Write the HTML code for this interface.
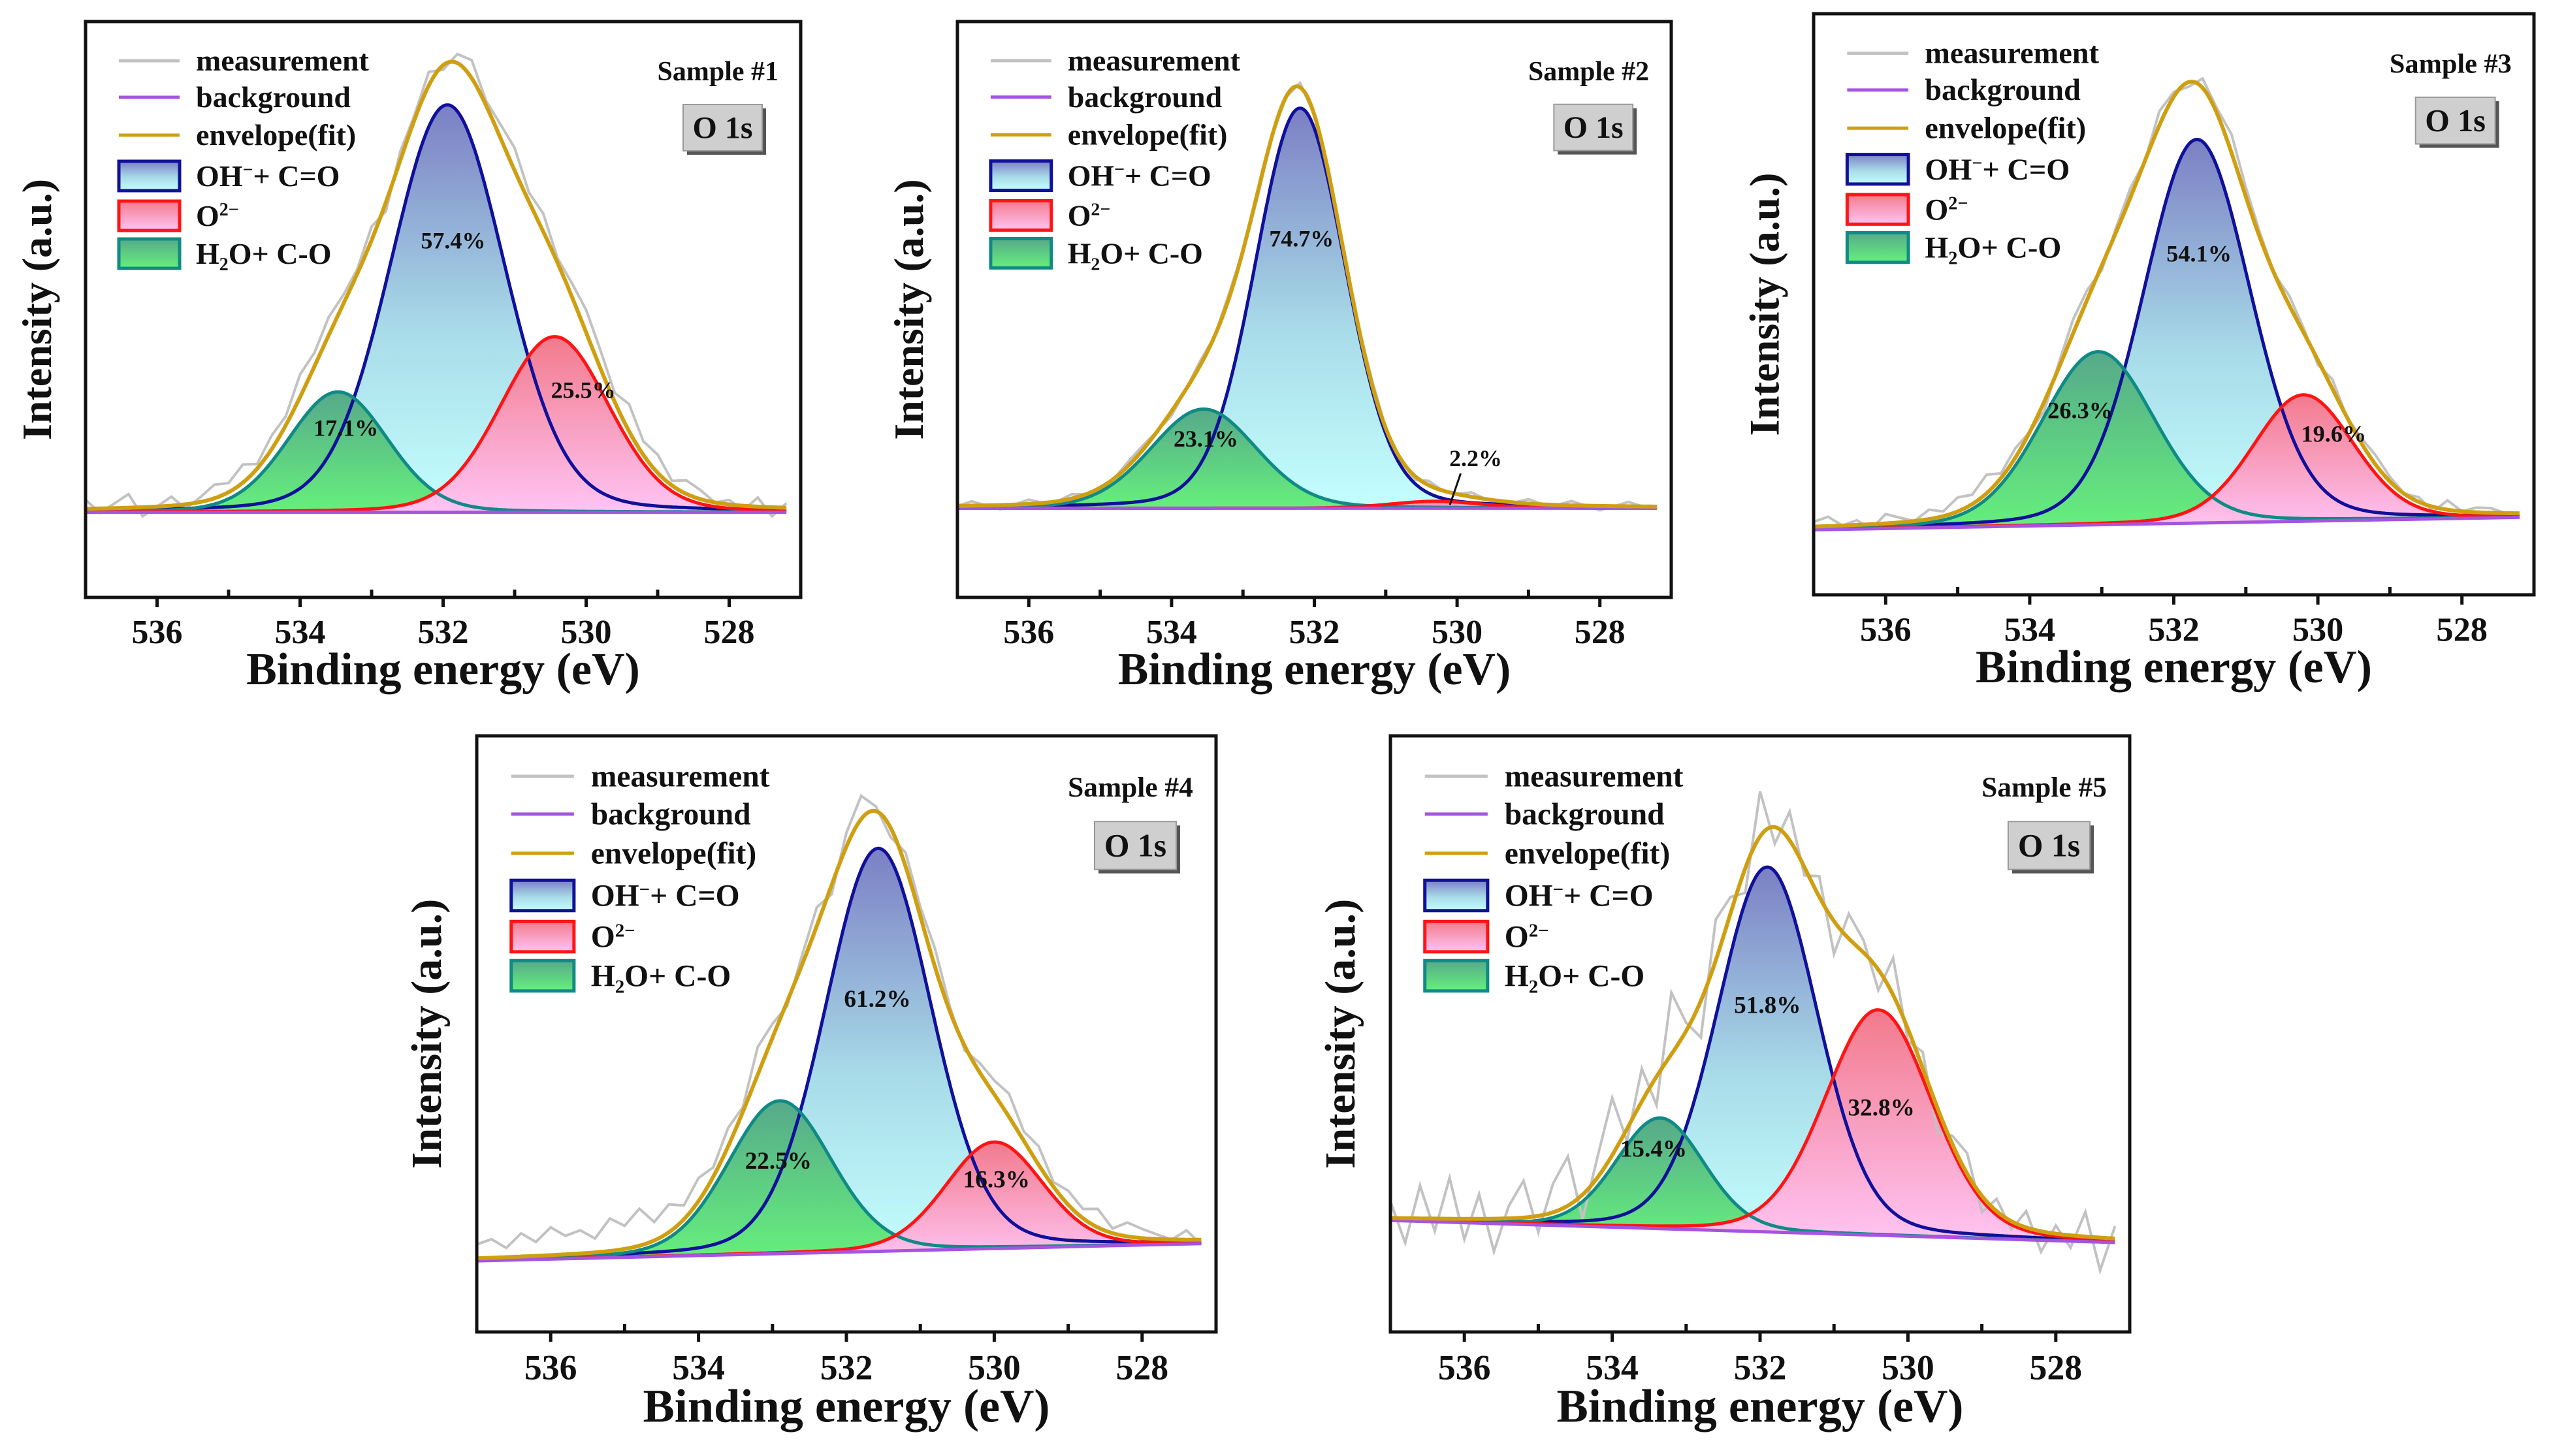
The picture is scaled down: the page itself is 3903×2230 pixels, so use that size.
<!DOCTYPE html>
<html><head><meta charset="utf-8"><style>
html,body{margin:0;padding:0;background:#fff}
svg{display:block}
text{font-family:"Liberation Serif",serif;font-weight:bold;fill:#111}
</style></head><body>
<svg id="fig" xmlns="http://www.w3.org/2000/svg" width="3903" height="2230" viewBox="0 0 3903 2230">
<defs>
<linearGradient id="gBlue" x1="0" y1="0" x2="0" y2="1"><stop offset="0" stop-color="#7b7fc4"/><stop offset="0.55" stop-color="#a8dbe8"/><stop offset="1" stop-color="#c4ffff"/></linearGradient>
<linearGradient id="gRed" x1="0" y1="0" x2="0" y2="1"><stop offset="0" stop-color="#f27a8c"/><stop offset="1" stop-color="#ffc4f4"/></linearGradient>
<linearGradient id="gGreen" x1="0" y1="0" x2="0" y2="1"><stop offset="0" stop-color="#56a98a"/><stop offset="1" stop-color="#66f07c"/></linearGradient>
</defs>
</svg>
<script>
// ---- data (energies in eV, intensities in a.u.; order: OH-+C=O, O2-, H2O+C-O) ----
const tickLabels = [536, 534, 532, 530, 528];
const p1Centers = [531.94, 530.44, 533.47];
const p1Amps = [90, 38.8, 26.6];
const p1Fwhm = [1.9, 1.8, 1.65];
const p1Bg = [0, 0];
const p1Pct = ["57.4%", "25.5%", "17.1%"];
const p1PctX = [531.86, 530.04, 533.36];
const p1PctY = [60, 27, 18.6];
const p1Resid = [2,-1,1,3,-2,0,2,-1,1,3,2,4,1,3,2,5,3,4,2,1,3,-2,2,1,3,-1,2,4,1,3,5,2,4,1,3,5,4,2,6,3,4,1,3,2,0,1,-1,2,-2,1];

const p2Centers = [532.2, 530.3, 533.55];
const p2Amps = [92, 1.6, 22.8];
const p2Fwhm = [1.5, 1.5, 1.75];
const p2Bg = [0, 0];
const p2Pct = ["74.7%", "2.2%", "23.1%"];
const p2PctX = [532.18, 529.74, 533.52];
const p2PctY = [62, 11.5, 16];
const p2Resid = [0,1,0,-1,0,1,0,0,1,0,-1,0,1,1,0,-1,0,1,0,1,0,-1,0,0,1,0,1,-1,0,1,0,0,-1,1,0,0,1,0,-1,0,1,0,0,1,0,-1,0,1,0,0];

const p3Centers = [531.68, 530.2, 533.05];
const p3Amps = [82, 27, 37];
const p3Fwhm = [1.75, 1.65, 1.85];
const p3Bg = [-1, 1.7];
const p3Pct = ["54.1%", "19.6%", "26.3%"];
const p3PctX = [531.65, 529.78, 533.3];
const p3PctY = [58, 19.5, 24.5];
const p3Resid = [1,2,0,1,-1,2,1,0,2,1,3,2,4,1,2,0,-2,1,3,2,-1,1,2,0,3,1,-1,2,1,4,2,1,0,2,1,-1,2,0,1,2,1,0,1,-1,2,0,1,1,0,-1];

const p4Centers = [531.57, 530.0, 532.9];
const p4Amps = [87, 23, 33];
const p4Fwhm = [1.7, 1.55, 1.65];
const p4Bg = [-1.55, 2.25];
const p4Pct = ["61.2%", "16.3%", "22.5%"];
const p4PctX = [531.58, 529.97, 532.92];
const p4PctY = [55, 16, 20];
const p4Resid = [3,4,2,5,3,6,4,5,3,7,5,8,4,6,3,5,2,4,1,6,3,-1,2,4,-2,3,5,1,-2,3,2,4,1,-1,2,3,5,2,4,1,3,2,4,1,3,2,1,0,2,-1];

const p5Centers = [531.9, 530.4, 533.35];
const p5Amps = [89, 55, 27];
const p5Fwhm = [1.6, 1.7, 1.4];
const p5Bg = [1.5, -4];
const p5Pct = ["51.8%", "32.8%", "15.4%"];
const p5PctX = [531.9, 530.36, 533.44];
const p5PctY = [54, 29, 19];
const p5Resid = [4,-6,8,-3,10,-5,6,-8,3,9,-4,7,12,-6,5,14,-3,8,-7,15,2,-9,10,4,-6,11,-4,7,-2,5,-8,6,3,-5,9,-3,4,-6,2,5,-4,3,-2,4,-5,2,-3,6,-8,3];

const NS = "http://www.w3.org/2000/svg";
const svg = document.getElementById('fig');
function mk(tag, attrs, parent){ const e=document.createElementNS(NS,tag); for(const k in attrs) e.setAttribute(k,attrs[k]); (parent||svg).appendChild(e); return e; }

const panels = [
 {n:1, x:131, y:33, w:1095, h:882, vTop:108.4, vBot:-18.8, c:p1Centers, a:p1Amps, f:p1Fwhm, bg:p1Bg, pct:p1Pct, px:p1PctX, py:p1PctY, r:p1Resid},
 {n:2, x:1466, y:33, w:1093, h:882, vTop:111.9, vBot:-20.5, c:p2Centers, a:p2Amps, f:p2Fwhm, bg:p2Bg, pct:p2Pct, px:p2PctX, py:p2PctY, r:p2Resid},
 {n:3, x:2777, y:21, w:1103, h:890, vTop:109.3, vBot:-14.9, c:p3Centers, a:p3Amps, f:p3Fwhm, bg:p3Bg, pct:p3Pct, px:p3PctX, py:p3PctY, r:p3Resid},
 {n:4, x:730, y:1127, w:1132, h:913, vTop:111.8, vBot:-16.9, c:p4Centers, a:p4Amps, f:p4Fwhm, bg:p4Bg, pct:p4Pct, px:p4PctX, py:p4PctY, r:p4Resid},
 {n:5, x:2129, y:1127, w:1132, h:913, vTop:119.7, vBot:-25.7, c:p5Centers, a:p5Amps, f:p5Fwhm, bg:p5Bg, pct:p5Pct, px:p5PctX, py:p5PctY, r:p5Resid}
];
const E0 = 537, E1 = 527, EEND = 527.2;
const strokes = ['#10109a', '#ff1414', '#108a84'];
const fills = ['url(#gBlue)', 'url(#gRed)', 'url(#gGreen)'];
const compNames = ['oh-co-component', 'o2-component', 'h2o-co-component'];

function pv(x, c, a, w){ const d=(x-c)/w; return a*(0.85*Math.exp(-4*Math.LN2*d*d) + 0.15/(1+4*d*d)); }

panels.forEach(P => {
  const g = mk('g', {});
  
  
  const X = e => P.x + (E0 - e) / (E0 - E1) * P.w;
  const Y = v => P.y + (P.vTop - v) / (P.vTop - P.vBot) * P.h;
  const bgAt = e => P.bg[0] + (P.bg[1] - P.bg[0]) * (E0 - e) / (E0 - E1);
  const k = P.w / 1095;
  const N = 400;
  const es = []; for (let i = 0; i <= N; i++) es.push(E0 - (E0 - EEND) * i / N);
  const order = [0, 2, 1];
  order.forEach(j => {
    let d = '';
    es.forEach((e, i) => { d += (i ? 'L' : 'M') + X(e).toFixed(1) + ',' + Y(bgAt(e) + pv(e, P.c[j], P.a[j], P.f[j])).toFixed(1); });
    for (let i = es.length - 1; i >= 0; i--) d += 'L' + X(es[i]).toFixed(1) + ',' + Y(bgAt(es[i])).toFixed(1);
    const p = mk('path', {d: d + 'Z', fill: fills[j], stroke: 'none'}, g);
    
    
  });
  let dm = '';
  P.r.forEach((rv, i) => { const e = E0 - i * 0.2; let s = bgAt(e); for (let j = 0; j < 3; j++) s += pv(e, P.c[j], P.a[j], P.f[j]); dm += (i ? 'L' : 'M') + X(e).toFixed(1) + ',' + Y(s + rv).toFixed(1); });
  const meas = mk('path', {d: dm, fill: 'none', stroke: '#c2c2c2', 'stroke-width': 4}, g);
  
  
  order.forEach(j => {
    let d = '';
    es.forEach((e, i) => { d += (i ? 'L' : 'M') + X(e).toFixed(1) + ',' + Y(bgAt(e) + pv(e, P.c[j], P.a[j], P.f[j])).toFixed(1); });
    const p = mk('path', {d: d, fill: 'none', stroke: strokes[j], 'stroke-width': 5}, g);
    
    
  });
  const bgl = mk('line', {x1: X(E0), y1: Y(bgAt(E0)), x2: X(EEND), y2: Y(bgAt(EEND)), stroke: '#a455e0', 'stroke-width': 5}, g);
  
  
  let de = '';
  es.forEach((e, i) => { let s = bgAt(e); for (let j = 0; j < 3; j++) s += pv(e, P.c[j], P.a[j], P.f[j]); de += (i ? 'L' : 'M') + X(e).toFixed(1) + ',' + Y(s).toFixed(1); });
  const env = mk('path', {d: de, fill: 'none', stroke: '#cf9f12', 'stroke-width': 6}, g);
  
  
  P.pct.forEach((t, j) => {
    const tx = mk('text', {x: X(P.px[j]), y: Y(P.py[j]) + 12, 'font-size': 36 * k, 'text-anchor': 'middle'}, g);
    tx.textContent = t;
    
    
  });
  if (P.n === 2) {
    const ar = mk('line', {x1: X(529.95), y1: Y(8), x2: X(530.1), y2: Y(0.8), stroke: '#111', 'stroke-width': 3}, g);
    
    
  }
  const fr = mk('rect', {x: P.x, y: P.y, width: P.w, height: P.h, fill: 'none', stroke: '#111', 'stroke-width': 5}, g);
  
  
  for (let e = 536; e >= 528; e--) {
    const major = e % 2 === 0;
    const t = mk('line', {x1: X(e), x2: X(e), y1: P.y + P.h + (major ? 15 : 0), y2: P.y + P.h - (major ? 0 : 12), stroke: '#111', 'stroke-width': 5}, g);
    
    
  }
  tickLabels.forEach(v => {
    const t = mk('text', {x: X(v), y: P.y + P.h + 70 * k, 'font-size': 52 * k, 'text-anchor': 'middle'}, g);
    t.textContent = v;
    
    
  });
  const xt = mk('text', {x: P.x + P.w / 2, y: P.y + P.h + 133 * k, 'font-size': 70 * k, 'text-anchor': 'middle'}, g);
  xt.textContent = 'Binding energy (eV)';
  
  
  const yx = P.x - 75 * k, yy = P.y + P.h / 2;
  const yt = mk('text', {x: yx, y: yy, 'font-size': 64 * k, 'text-anchor': 'middle', transform: `rotate(-90 ${yx} ${yy}) translate(0 ${22 * k})`}, g);
  yt.textContent = 'Intensity (a.u.)';
  
  
  const st = mk('text', {x: P.x + P.w - 34 * k, y: P.y + 90 * k, 'font-size': 42 * k, 'text-anchor': 'end'}, g);
  st.textContent = 'Sample #' + P.n;
  
  
  const bx = P.x + P.w - 180 * k, by = P.y + 127 * k, bw = 121 * k, bh = 71 * k;
  const sh = mk('rect', {x: bx + 6, y: by + 6, width: bw, height: bh, fill: '#555'}, g);
  
  
  const bxr = mk('rect', {x: bx, y: by, width: bw, height: bh, fill: '#cfcfcf', stroke: '#999', 'stroke-width': 2}, g);
  
  
  const bt = mk('text', {x: bx + bw / 2, y: by + bh / 2 + 16 * k, 'font-size': 48 * k, 'text-anchor': 'middle'}, g);
  bt.textContent = 'O 1s';
  
  
  const lx = P.x + 51 * k, lx2 = P.x + 144 * k, tx0 = P.x + 169 * k;
  const rows = [60, 116, 174, 236, 297, 355].map(v => P.y + v * k);
  const lineCols = ['#c2c2c2', '#a455e0', '#cf9f12'];
  const lineNames = ['measurement', 'background', 'envelope(fit)'];
  lineNames.forEach((nm, i) => {
    const l = mk('line', {x1: lx, x2: lx2, y1: rows[i], y2: rows[i], stroke: lineCols[i], 'stroke-width': 5}, g);
    
    
    const t = mk('text', {x: tx0, y: rows[i] + 15 * k, 'font-size': 46 * k}, g);
    t.textContent = nm;
    
    
  });
  const boxLabels = [
    '<tspan>OH</tspan><tspan dy="-16" font-size="' + 28 * k + '">−</tspan><tspan dy="16">+ C=O</tspan>',
    '<tspan>O</tspan><tspan dy="-16" font-size="' + 28 * k + '">2−</tspan>',
    '<tspan>H</tspan><tspan dy="10" font-size="' + 28 * k + '">2</tspan><tspan dy="-10">O+ C-O</tspan>'
  ];
  [0, 1, 2].forEach((j, i) => {
    const ry = rows[3 + i];
    const r = mk('rect', {x: lx, y: ry - 22 * k, width: lx2 - lx, height: 45 * k, fill: fills[j], stroke: strokes[j], 'stroke-width': 5}, g);
    
    
    const t = mk('text', {x: tx0, y: ry + 16 * k, 'font-size': 46 * k}, g);
    t.innerHTML = boxLabels[i];
    
    
  });
});
</script>
</body></html>
